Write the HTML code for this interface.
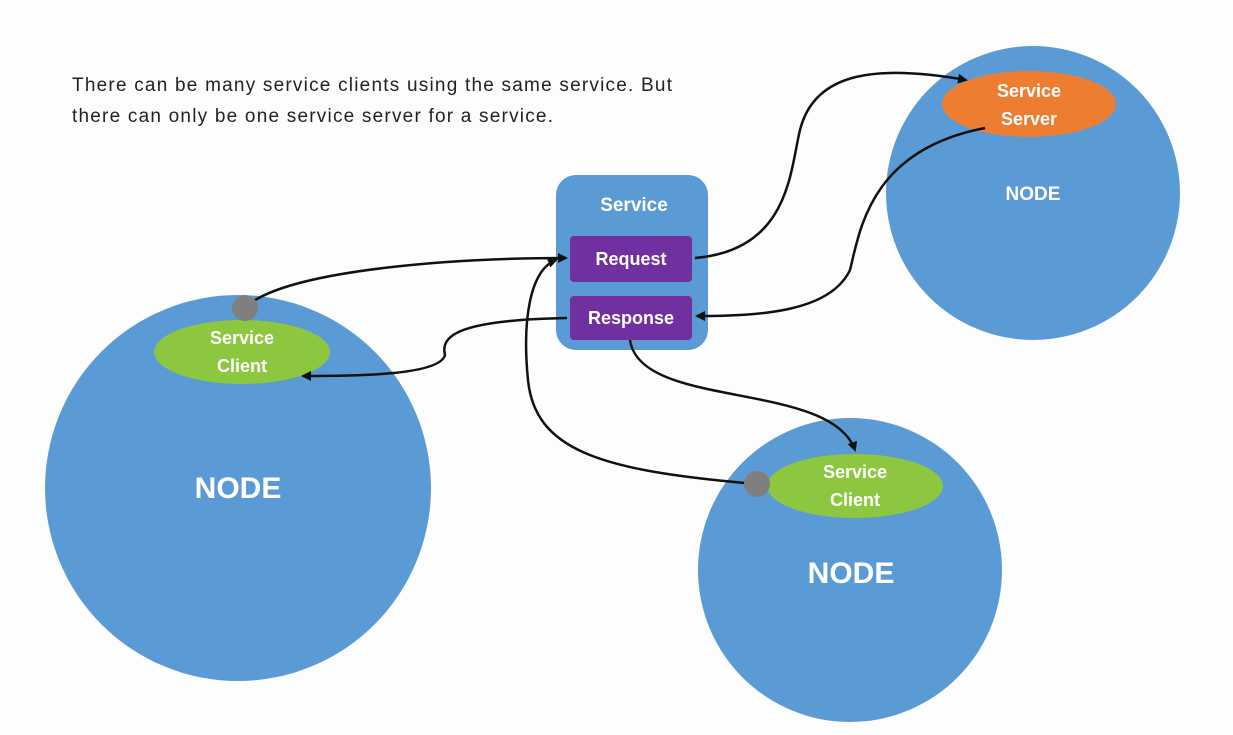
<!DOCTYPE html>
<html><head><meta charset="utf-8"><style>
html,body{margin:0;padding:0;background:#fdfdfd;}
svg{display:block}
</style></head><body>
<svg width="1233" height="735" viewBox="0 0 1233 735" xmlns="http://www.w3.org/2000/svg">
<defs>
<marker id="a" markerWidth="10" markerHeight="10" refX="8" refY="5" orient="auto" markerUnits="userSpaceOnUse">
<path d="M0,0 L10,5 L0,10 z" fill="#111"/>
</marker>
</defs>
<rect width="1233" height="735" fill="#fdfdfd"/>
<text x="72" y="91" font-family="Liberation Sans, sans-serif" font-size="19" fill="#222" textLength="600" lengthAdjust="spacing">There can be many service clients using the same service. But</text>
<text x="72" y="122" font-family="Liberation Sans, sans-serif" font-size="19" fill="#222" textLength="481" lengthAdjust="spacing">there can only be one service server for a service.</text>

<circle cx="238" cy="488" r="193" fill="#5b9bd5"/>
<circle cx="1033" cy="193" r="147" fill="#5b9bd5"/>
<circle cx="850" cy="570" r="152" fill="#5b9bd5"/>

<rect x="556" y="175" width="152" height="175" rx="20" fill="#5b9bd5"/>
<text x="634" y="211" text-anchor="middle" font-family="Liberation Sans, sans-serif" font-weight="bold" font-size="19" fill="#fff">Service</text>
<rect x="570" y="236" width="122" height="46" rx="4" fill="#7030a0"/>
<text x="631" y="265" text-anchor="middle" font-family="Liberation Sans, sans-serif" font-weight="bold" font-size="18" fill="#fff">Request</text>
<rect x="570" y="296" width="122" height="44" rx="4" fill="#7030a0"/>
<text x="631" y="324" text-anchor="middle" font-family="Liberation Sans, sans-serif" font-weight="bold" font-size="18" fill="#fff">Response</text>

<ellipse cx="242" cy="352" rx="88" ry="32" fill="#8dc63f"/>
<text x="242" y="344" text-anchor="middle" font-family="Liberation Sans, sans-serif" font-weight="bold" font-size="18" fill="#fff">Service</text>
<text x="242" y="372" text-anchor="middle" font-family="Liberation Sans, sans-serif" font-weight="bold" font-size="18" fill="#fff">Client</text>

<ellipse cx="855" cy="486" rx="88" ry="32" fill="#8dc63f"/>
<text x="855" y="478" text-anchor="middle" font-family="Liberation Sans, sans-serif" font-weight="bold" font-size="18" fill="#fff">Service</text>
<text x="855" y="506" text-anchor="middle" font-family="Liberation Sans, sans-serif" font-weight="bold" font-size="18" fill="#fff">Client</text>

<ellipse cx="1029" cy="104" rx="87" ry="33" fill="#ed7d31"/>
<text x="1029" y="97" text-anchor="middle" font-family="Liberation Sans, sans-serif" font-weight="bold" font-size="18" fill="#fff">Service</text>
<text x="1029" y="125" text-anchor="middle" font-family="Liberation Sans, sans-serif" font-weight="bold" font-size="18" fill="#fff">Server</text>

<text x="238" y="498" text-anchor="middle" font-family="Liberation Sans, sans-serif" font-weight="bold" font-size="30" fill="#fff">NODE</text>
<text x="851" y="583" text-anchor="middle" font-family="Liberation Sans, sans-serif" font-weight="bold" font-size="30" fill="#fff">NODE</text>
<text x="1033" y="200" text-anchor="middle" font-family="Liberation Sans, sans-serif" font-weight="bold" font-size="19" fill="#fff">NODE</text>

<g fill="none" stroke="#111" stroke-width="2.5">
<path d="M252,302 C300,270 450,258 566,258" marker-end="url(#a)"/>
<path d="M695,258 C790,250 790,170 800,130 C815,70 880,65 966,80" marker-end="url(#a)"/>
<path d="M985,128 C870,150 860,230 850,270 C830,312 760,316 697,316" marker-end="url(#a)"/>
<path d="M567,318 C460,320 440,335 445,355 C440,375 360,376 303,376" marker-end="url(#a)"/>
<path d="M630,340 C640,410 830,380 855,450" marker-end="url(#a)"/>
<path d="M745,483 C600,470 535,450 528,380 C522,320 530,270 556,260" marker-end="url(#a)"/>
</g>
<circle cx="245" cy="308" r="13" fill="#7f7f7f"/>
<circle cx="757" cy="484" r="13" fill="#7f7f7f"/>
</svg>
</body></html>
